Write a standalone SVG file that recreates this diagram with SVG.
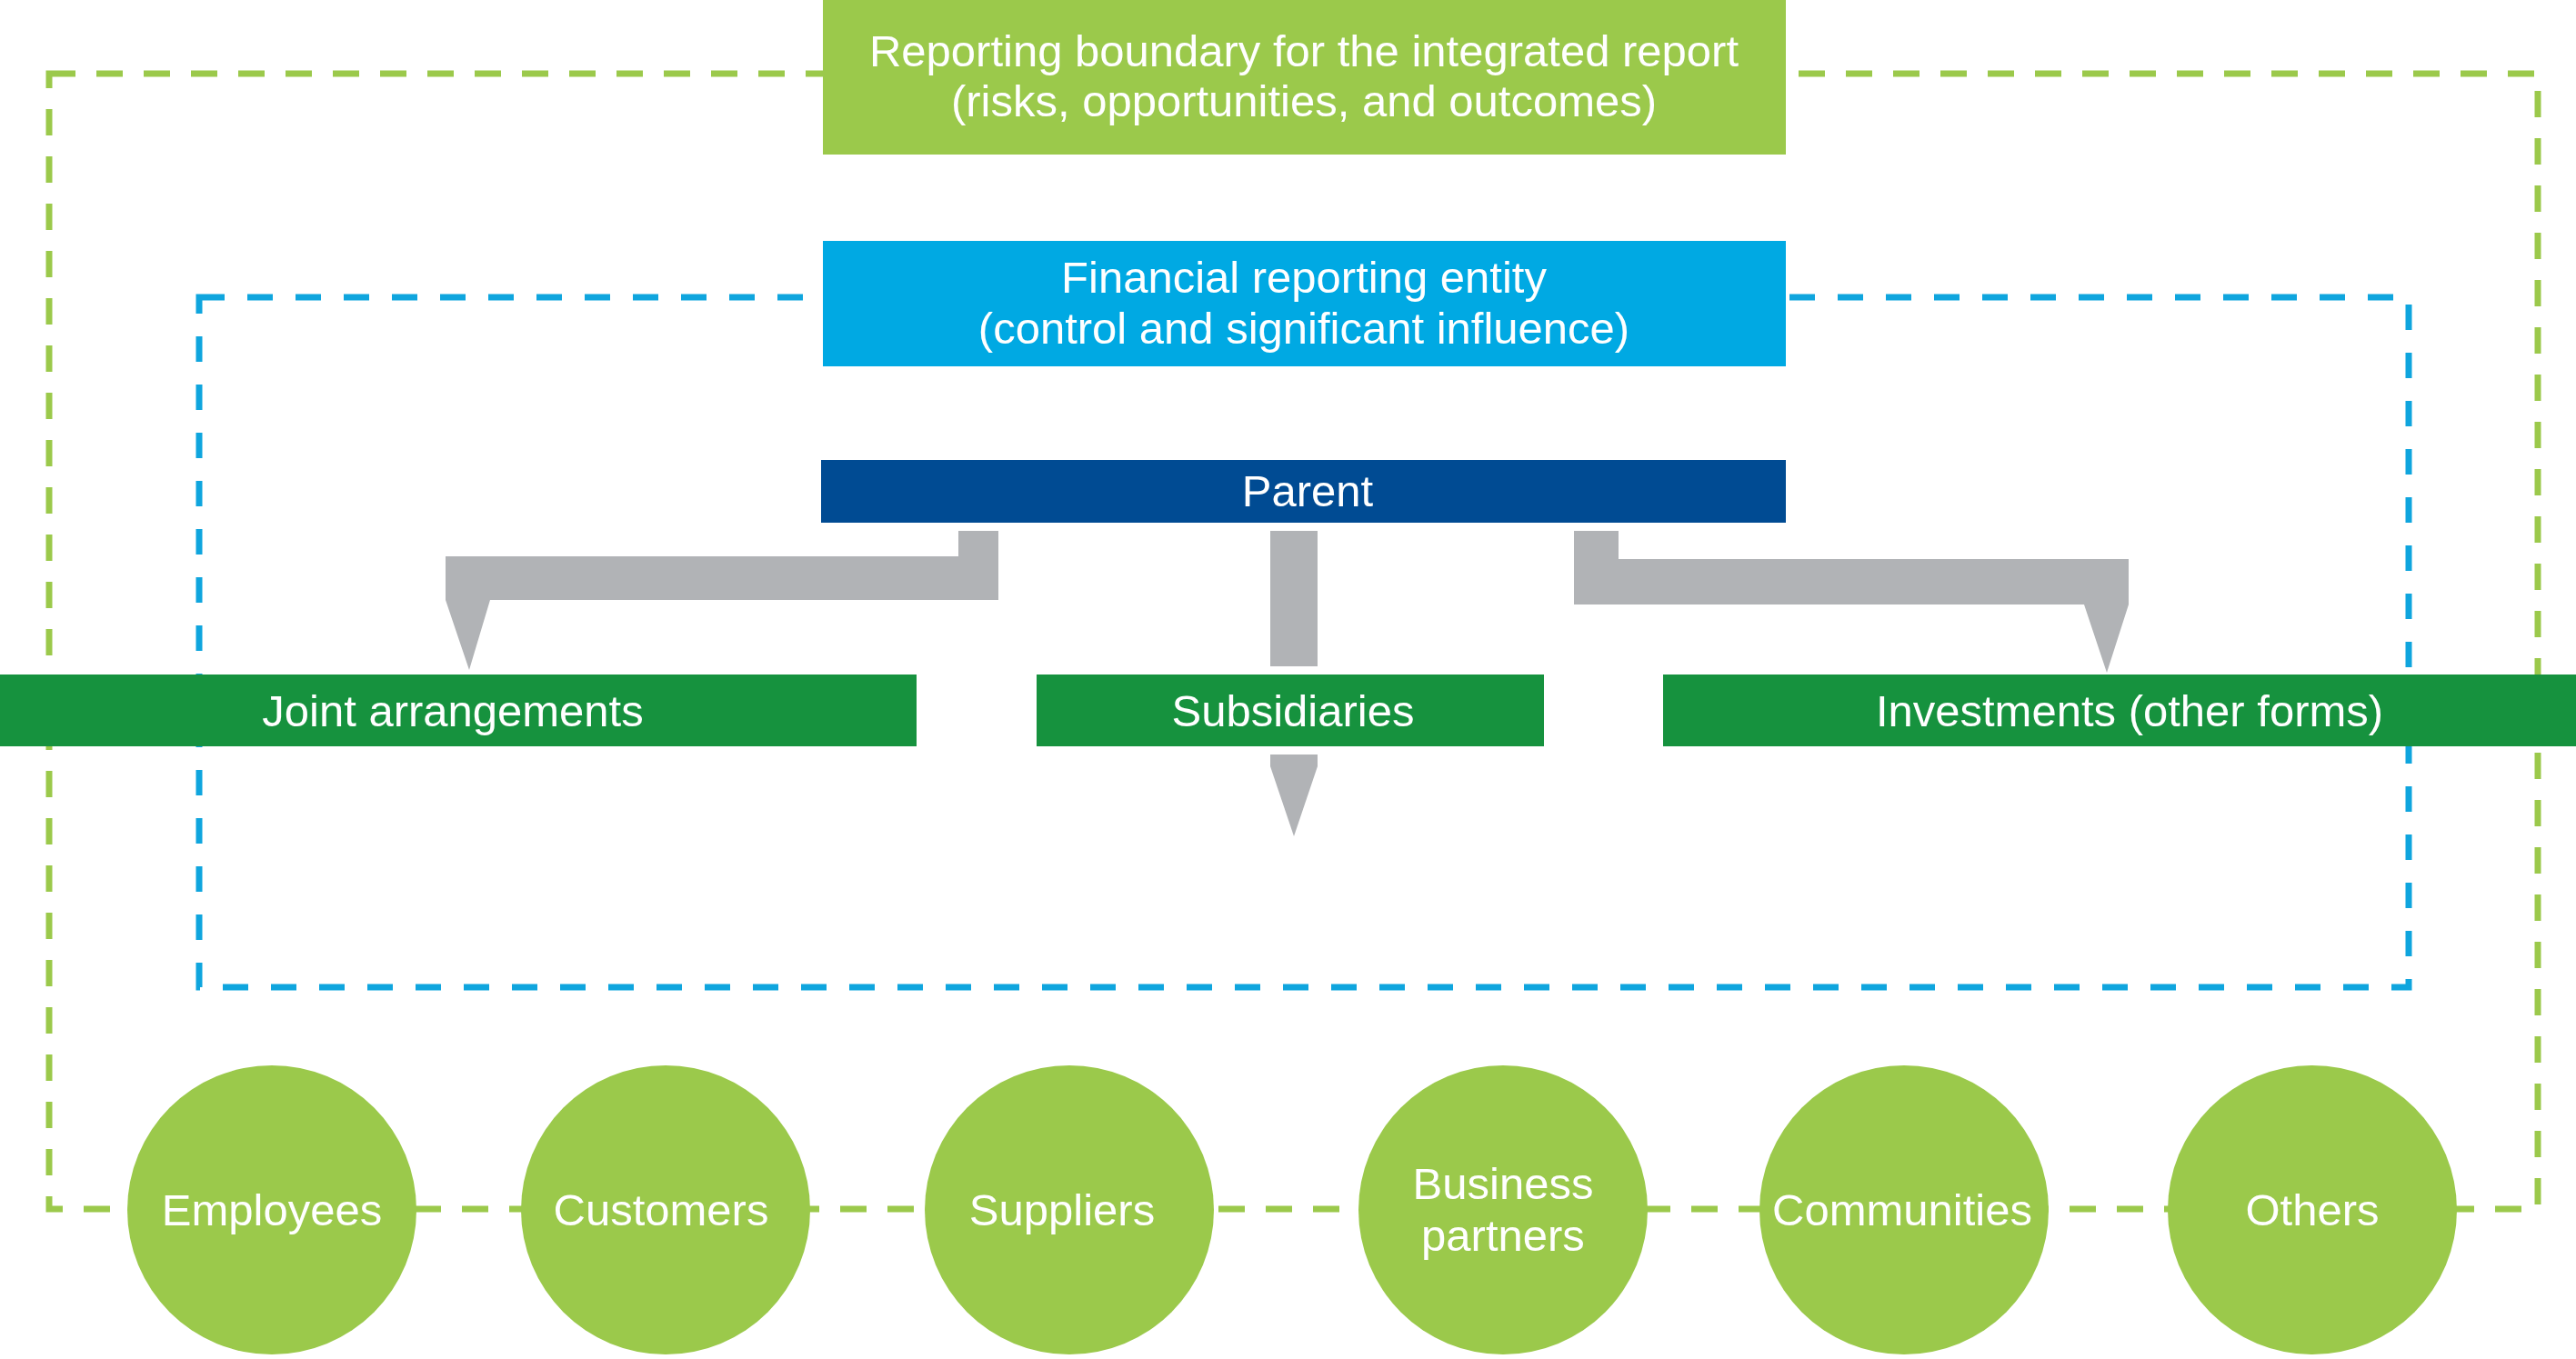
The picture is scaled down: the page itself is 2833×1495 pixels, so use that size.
<svg xmlns="http://www.w3.org/2000/svg" width="2833" height="1495" viewBox="0 0 2833 1495">
<style>
.t{font-family:"Liberation Sans",Arial,sans-serif;font-size:49px;fill:#ffffff;text-anchor:middle}
.lg{fill:#9BC94B}
.bl{fill:#00A9E3}
.db{fill:#004B93}
.dg{fill:#16923E}
.gr{fill:#B1B3B6}
.dashG{fill:none;stroke:#9BC94B;stroke-width:7;stroke-dasharray:29 23}
.dashB{fill:none;stroke:#0FA5DE;stroke-width:7;stroke-dasharray:28 25}
</style>
<rect width="2833" height="1495" fill="#ffffff"/>
<g id="boundaries">
<rect class="dashG" x="54" y="81" width="2737" height="1249"/>
<rect class="dashB" x="219" y="327" width="2430" height="759"/>
</g>
<g id="reporting-boundary">
<rect class="lg" x="905" y="0" width="1059" height="170"/>
<text class="t" x="1434" y="73">Reporting boundary for the integrated report</text>
<text class="t" x="1434" y="128">(risks, opportunities, and outcomes)</text>
</g>
<g id="financial-entity">
<rect class="bl" x="905" y="265" width="1059" height="138"/>
<text class="t" x="1434" y="322">Financial reporting entity</text>
<text class="t" x="1434" y="378">(control and significant influence)</text>
</g>
<g id="parent">
<rect class="db" x="903" y="506" width="1061" height="69"/>
<text class="t" x="1438" y="557">Parent</text>
</g>
<g id="connectors">
<path class="gr" d="M1054,584 H1098 V660 H539 L516,737 L490,660 V612 H1054 Z"/>
<rect class="gr" x="1397" y="584" width="52" height="149"/>
<path class="gr" d="M1397,830 H1449 V843 L1423,920 L1397,843 Z"/>
<path class="gr" d="M1731,584 H1780 V615 H2341 V665 L2317,740 L2292,665 H1731 Z"/>
</g>
<g id="joint-arrangements">
<rect class="dg" x="0" y="742" width="1008" height="79"/>
<text class="t" x="498" y="799">Joint arrangements</text>
</g>
<g id="subsidiaries">
<rect class="dg" x="1140" y="742" width="558" height="79"/>
<text class="t" x="1422" y="799">Subsidiaries</text>
</g>
<g id="investments">
<rect class="dg" x="1829" y="742" width="1004" height="79"/>
<text class="t" x="2342" y="799">Investments (other forms)</text>
</g>
<g id="employees">
<circle class="lg" cx="299" cy="1331" r="159"/>
<text class="t" x="299" y="1348">Employees</text>
</g>
<g id="customers">
<circle class="lg" cx="732" cy="1331" r="159"/>
<text class="t" x="727" y="1348">Customers</text>
</g>
<g id="suppliers">
<circle class="lg" cx="1176" cy="1331" r="159"/>
<text class="t" x="1168" y="1348">Suppliers</text>
</g>
<g id="business-partners">
<circle class="lg" cx="1653" cy="1331" r="159"/>
<text class="t" x="1653" y="1319">Business</text>
<text class="t" x="1653" y="1376">partners</text>
</g>
<g id="communities">
<circle class="lg" cx="2094" cy="1331" r="159"/>
<text class="t" x="2092" y="1348">Communities</text>
</g>
<g id="others">
<circle class="lg" cx="2543" cy="1331" r="159"/>
<text class="t" x="2543" y="1348">Others</text>
</g>
</svg>
